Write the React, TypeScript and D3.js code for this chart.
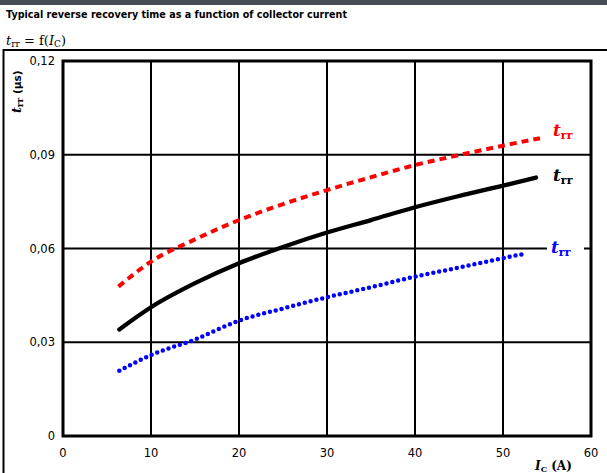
import React from "react";
import * as d3 from "d3";

const xTicks = [0, 10, 20, 30, 40, 50, 60];
const yTicks = [0, 0.03, 0.06, 0.09, 0.12];
const yTickLabels = ["0", "0,03", "0,06", "0,09", "0,12"];

const redX = [6.3, 10, 15, 20, 25, 30, 35, 40, 45, 50, 54.2];
const redY = [0.0478, 0.0558, 0.0629, 0.0691, 0.0742, 0.0787, 0.0828, 0.0867, 0.0899, 0.0929, 0.0953];

const blackX = [6.4, 10, 15, 20, 25, 30, 35, 40, 45, 50, 53.75];
const blackY = [0.0341, 0.0412, 0.0489, 0.0553, 0.0605, 0.0651, 0.0691, 0.0732, 0.0768, 0.0801, 0.0827];

const blueX = [6.4, 10, 15, 20, 25, 30, 35, 40, 45, 50, 52.75];
const blueY = [0.0209, 0.0259, 0.0309, 0.0369, 0.0408, 0.0444, 0.0476, 0.051, 0.0539, 0.0569, 0.0585];

const W = 607;
const H = 473;
const left = 63, right = 591, top = 61, bottom = 436;

export default function App() {
  const x = d3.scaleLinear().domain([0, 60]).range([left, right]);
  const y = d3.scaleLinear().domain([0, 0.12]).range([bottom, top]);
  const line = d3
    .line<[number, number]>()
    .x((d) => x(d[0]))
    .y((d) => y(d[1]))
    .curve(d3.curveMonotoneX);
  const zip = (a: number[], b: number[]) => a.map((v, i) => [v, b[i]] as [number, number]);

  const serif = "'DejaVu Serif', 'Liberation Serif', serif";
  const sans = "'DejaVu Sans', Verdana, sans-serif";

  const trrLabel = (lx: number, ly: number, color: string) => (
    <text x={lx} y={ly} fill={color} fontFamily={serif} fontWeight="bold" fontSize={17}>
      <tspan fontStyle="italic">t</tspan>
      <tspan fontSize={11} dy={3}>rr</tspan>
    </text>
  );

  return (
    <div style={{ position: "fixed", left: 0, top: 0, width: W, height: H, background: "#fff" }}>
      <svg width={W} height={H} style={{ display: "block" }}>
        <rect x={0} y={0} width={W} height={H} fill="#fff" />
        <rect x={0} y={0} width={W} height={5} fill="#474c54" />
        <text x={6} y={18} fontFamily={sans} fontWeight="bold" fontSize={9.6} fill="#000">
          Typical reverse recovery time as a function of collector current
        </text>
        <text x={6} y={45} fontFamily={serif} fontSize={13} fill="#000">
          <tspan fontStyle="italic">t</tspan>
          <tspan fontSize={9} dy={2}>rr</tspan>
          <tspan dy={-2}> = f(</tspan>
          <tspan fontStyle="italic">I</tspan>
          <tspan fontSize={9} dy={2}>C</tspan>
          <tspan dy={-2}>)</tspan>
        </text>
        {/* outer frame */}
        <line x1={3} x2={W} y1={50} y2={50} stroke="#000" strokeWidth={2} />
        <line x1={3.5} x2={3.5} y1={49} y2={H} stroke="#000" strokeWidth={2} />

        {/* grid */}
        {xTicks.map((t) => (
          <line key={"gx" + t} x1={x(t)} x2={x(t)} y1={top} y2={bottom} stroke="#000" strokeWidth={2} />
        ))}
        {yTicks.map((t) => (
          <line key={"gy" + t} x1={left} x2={right} y1={y(t)} y2={y(t)} stroke="#000" strokeWidth={2} />
        ))}
        <rect x={left} y={top} width={right - left} height={bottom - top} fill="none" stroke="#000" strokeWidth={3} />

        {/* tick labels */}
        {yTicks.map((t, i) => (
          <text key={"yl" + t} x={55} y={y(t) + 4} textAnchor="end" fontFamily={sans} fontSize={11.5} fill="#000">
            {yTickLabels[i]}
          </text>
        ))}
        {xTicks.map((t) => (
          <text key={"xl" + t} x={x(t)} y={457} textAnchor="middle" fontFamily={sans} fontSize={11.5} fill="#000">
            {t}
          </text>
        ))}

        {/* axis titles */}
        <text x={535} y={470} fontFamily={serif} fontWeight="bold" fontSize={12} fill="#000">
          <tspan fontStyle="italic">I</tspan>
          <tspan fontSize={8} dy={2}>C</tspan>
          <tspan dy={-2}> (A)</tspan>
        </text>
        <text
          transform="translate(21,113) rotate(-90)"
          fontFamily={serif}
          fontWeight="bold"
          fontSize={12.5}
          fill="#000"
        >
          <tspan fontStyle="italic">t</tspan>
          <tspan fontSize={9} dy={2}>rr</tspan>
          <tspan dy={-2} fontFamily={sans} fontSize={10.5}> (µs)</tspan>
        </text>

        {/* curves */}
        <path d={line(zip(redX, redY)) || ""} fill="none" stroke="#ff0000" strokeWidth={4} strokeDasharray="7 5" />
        <path d={line(zip(blackX, blackY)) || ""} fill="none" stroke="#000" strokeWidth={4.3} strokeLinecap="round" />
        <path
          d={line(zip(blueX, blueY)) || ""}
          fill="none"
          stroke="#0000ff"
          strokeWidth={4.5}
          strokeDasharray="0 6"
          strokeLinecap="round"
        />

        {/* curve labels */}
        {trrLabel(553, 136, "#ff0000")}
        {trrLabel(553, 181, "#000")}
        <rect x={547} y={238} width={37} height={20} fill="#fff" />
        {trrLabel(551, 253, "#0000ff")}
      </svg>
    </div>
  );
}
